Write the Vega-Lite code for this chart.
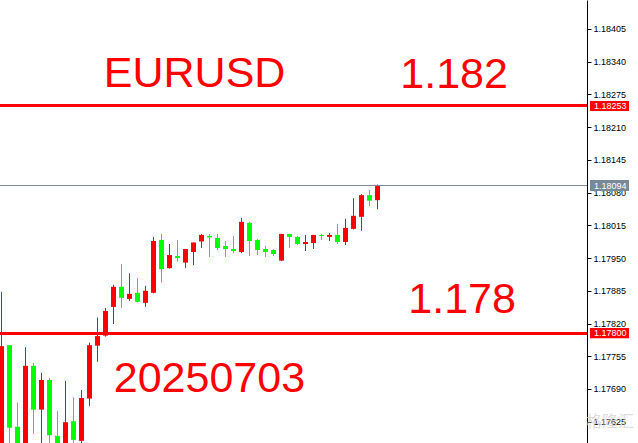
{
  "$schema": "https://vega.github.io/schema/vega-lite/v6.json",
  "width": 587,
  "height": 443,
  "autosize": {"type": "none"},
  "padding": {"left": 0, "top": 0, "right": 51, "bottom": 0},
  "background": "#ffffff",
  "config": {
    "view": {"stroke": null},
    "axisX": {"disable": true},
    "scale": {"continuousPadding": 0},
    "axisY": {"labelFont": "Liberation Sans", "labelFontSize": 9, "labelColor": "#000000", "tickColor": "#000000", "domainColor": "#000000", "tickSize": 4, "labelPadding": 2, "grid": false, "labelOverlap": false, "labelFlush": false, "title": null}
  },
  "datasets": {
    "candles": [
      {"i": 0, "open": 1.17559, "high": 1.17883, "low": 1.17549, "close": 1.17775},
      {"i": 1, "open": 1.17777, "high": 1.17777, "low": 1.17569, "close": 1.17613},
      {"i": 2, "open": 1.17615, "high": 1.17663, "low": 1.17565, "close": 1.17573},
      {"i": 3, "open": 1.17575, "high": 1.17773, "low": 1.17565, "close": 1.17736},
      {"i": 4, "open": 1.17736, "high": 1.17742, "low": 1.17601, "close": 1.17649},
      {"i": 5, "open": 1.17649, "high": 1.17722, "low": 1.17573, "close": 1.17708},
      {"i": 6, "open": 1.17708, "high": 1.17712, "low": 1.17575, "close": 1.17598},
      {"i": 7, "open": 1.17597, "high": 1.17646, "low": 1.17569, "close": 1.17575},
      {"i": 8, "open": 1.17577, "high": 1.17706, "low": 1.17573, "close": 1.17624},
      {"i": 9, "open": 1.17626, "high": 1.17673, "low": 1.17579, "close": 1.17589},
      {"i": 10, "open": 1.17587, "high": 1.17688, "low": 1.17577, "close": 1.17672},
      {"i": 11, "open": 1.17671, "high": 1.17782, "low": 1.17656, "close": 1.17777},
      {"i": 12, "open": 1.17776, "high": 1.17832, "low": 1.17744, "close": 1.17795},
      {"i": 13, "open": 1.17796, "high": 1.17851, "low": 1.17794, "close": 1.17845},
      {"i": 14, "open": 1.17853, "high": 1.17897, "low": 1.17819, "close": 1.17893},
      {"i": 15, "open": 1.17893, "high": 1.17938, "low": 1.17851, "close": 1.17871},
      {"i": 16, "open": 1.17869, "high": 1.1792, "low": 1.17865, "close": 1.17879},
      {"i": 17, "open": 1.17881, "high": 1.1791, "low": 1.17862, "close": 1.17863},
      {"i": 18, "open": 1.17861, "high": 1.17895, "low": 1.17853, "close": 1.17885},
      {"i": 19, "open": 1.17881, "high": 1.17992, "low": 1.1788, "close": 1.17984},
      {"i": 20, "open": 1.17986, "high": 1.17998, "low": 1.17901, "close": 1.17928},
      {"i": 21, "open": 1.1793, "high": 1.17978, "low": 1.17929, "close": 1.17956},
      {"i": 22, "open": 1.17954, "high": 1.17986, "low": 1.17943, "close": 1.1795},
      {"i": 23, "open": 1.17941, "high": 1.17968, "low": 1.1793, "close": 1.17968},
      {"i": 24, "open": 1.17962, "high": 1.17981, "low": 1.17936, "close": 1.17981},
      {"i": 25, "open": 1.17983, "high": 1.17998, "low": 1.1797, "close": 1.17996},
      {"i": 26, "open": 1.17994, "high": 1.17998, "low": 1.17952, "close": 1.17991},
      {"i": 27, "open": 1.1799, "high": 1.17998, "low": 1.17966, "close": 1.1797},
      {"i": 28, "open": 1.17974, "high": 1.17984, "low": 1.17952, "close": 1.17968},
      {"i": 29, "open": 1.17968, "high": 1.17994, "low": 1.1796, "close": 1.17964},
      {"i": 30, "open": 1.17962, "high": 1.1803, "low": 1.1796, "close": 1.18022},
      {"i": 31, "open": 1.1802, "high": 1.18022, "low": 1.17954, "close": 1.17984},
      {"i": 32, "open": 1.17986, "high": 1.17988, "low": 1.17956, "close": 1.17966},
      {"i": 33, "open": 1.17968, "high": 1.17974, "low": 1.17952, "close": 1.17962},
      {"i": 34, "open": 1.17966, "high": 1.17968, "low": 1.17954, "close": 1.17958},
      {"i": 35, "open": 1.17945, "high": 1.17998, "low": 1.17944, "close": 1.17998},
      {"i": 36, "open": 1.17998, "high": 1.17998, "low": 1.1797, "close": 1.17992},
      {"i": 37, "open": 1.17992, "high": 1.17994, "low": 1.17976, "close": 1.17978},
      {"i": 38, "open": 1.17978, "high": 1.17996, "low": 1.17964, "close": 1.17982},
      {"i": 39, "open": 1.1798, "high": 1.17996, "low": 1.17968, "close": 1.17996},
      {"i": 40, "open": 1.17996, "high": 1.17998, "low": 1.17986, "close": 1.17994},
      {"i": 41, "open": 1.17992, "high": 1.18, "low": 1.17984, "close": 1.17996},
      {"i": 42, "open": 1.17996, "high": 1.18018, "low": 1.17978, "close": 1.17982},
      {"i": 43, "open": 1.17982, "high": 1.18028, "low": 1.17976, "close": 1.1801},
      {"i": 44, "open": 1.18008, "high": 1.18069, "low": 1.18007, "close": 1.18034},
      {"i": 45, "open": 1.18032, "high": 1.18077, "low": 1.18004, "close": 1.18075},
      {"i": 46, "open": 1.18075, "high": 1.18085, "low": 1.18053, "close": 1.18064},
      {"i": 47, "open": 1.18065, "high": 1.18096, "low": 1.18047, "close": 1.18094}
    ]
  },
  "layer": [
    {
      "data": {"name": "candles"},
      "mark": {"type": "rule", "strokeWidth": 1},
      "encoding": {
        "x": {"field": "i", "type": "quantitative", "scale": {"domain": [-0.1875, 73.1875], "nice": false, "zero": false, "padding": 0}},
        "y": {"field": "low", "type": "quantitative", "title": null, "scale": {"domain": [1.175827, 1.184626], "nice": false, "zero": false, "padding": 0},
              "axis": {"orient": "right", "format": ".5f", "title": null, "labelOverlap": false, "tickCount": 30, "values": [1.17625, 1.1769, 1.17755, 1.1782, 1.17885, 1.1795, 1.18015, 1.1808, 1.18145, 1.1821, 1.18275, 1.1834, 1.18405]}},
        "y2": {"field": "high"},
        "color": {"condition": {"test": "datum.close > datum.open", "value": "#ff0000"}, "value": "#00ff00"}
      }
    },
    {
      "data": {"name": "candles"},
      "mark": {"type": "bar", "width": 5},
      "encoding": {
        "x": {"field": "i", "type": "quantitative"},
        "y": {"field": "open", "type": "quantitative", "title": null},
        "y2": {"field": "close"},
        "color": {"condition": {"test": "datum.close > datum.open", "value": "#ff0000"}, "value": "#00ff00"}
      }
    },
    {
      "data": {"values": [{}]},
      "mark": {"type": "rule", "color": "#ff0000", "strokeWidth": 3},
      "encoding": {"y": {"datum": 1.18253}}
    },
    {
      "data": {"values": [{}]},
      "mark": {"type": "rule", "color": "#ff0000", "strokeWidth": 3},
      "encoding": {"y": {"datum": 1.178}}
    },
    {
      "data": {"values": [{}]},
      "mark": {"type": "rule", "color": "#778899", "strokeWidth": 1},
      "encoding": {"y": {"datum": 1.18094}}
    },
    {
      "data": {"values": [{}]},
      "mark": {"type": "rect", "color": "#ff0000"},
      "encoding": {"x": {"datum": 73.5625}, "x2": {"datum": 78.4375}, "y": {"datum": 1.18262}, "y2": {"datum": 1.18242}}
    },
    {
      "data": {"values": [{}]},
      "mark": {"type": "rect", "color": "#ff0000"},
      "encoding": {"x": {"datum": 73.5625}, "x2": {"datum": 78.4375}, "y": {"datum": 1.17811}, "y2": {"datum": 1.17791}}
    },
    {
      "data": {"values": [{}]},
      "mark": {"type": "rect", "color": "#778899"},
      "encoding": {"x": {"datum": 73.5625}, "x2": {"datum": 78.4375}, "y": {"datum": 1.18105}, "y2": {"datum": 1.18083}}
    },
    {
      "data": {"values": [{}]},
      "mark": {"type": "text", "text": "1.18253", "color": "#ffffff", "font": "Liberation Sans", "fontSize": 9, "align": "left", "baseline": "middle"},
      "encoding": {"x": {"datum": 74.06}, "y": {"datum": 1.18252}}
    },
    {
      "data": {"values": [{}]},
      "mark": {"type": "text", "text": "1.17800", "color": "#ffffff", "font": "Liberation Sans", "fontSize": 9, "align": "left", "baseline": "middle"},
      "encoding": {"x": {"datum": 74.06}, "y": {"datum": 1.17801}}
    },
    {
      "data": {"values": [{}]},
      "mark": {"type": "text", "text": "1.18094", "color": "#ffffff", "font": "Liberation Sans", "fontSize": 9, "align": "left", "baseline": "middle"},
      "encoding": {"x": {"datum": 74.06}, "y": {"datum": 1.18094}}
    },
    {
      "data": {"values": [{}]},
      "mark": {"type": "text", "text": "EURUSD", "color": "#ff0000", "font": "Liberation Sans", "fontSize": 43, "align": "left", "baseline": "alphabetic"},
      "encoding": {"x": {"datum": 12.79}, "y": {"datum": 1.182892}}
    },
    {
      "data": {"values": [{}]},
      "mark": {"type": "text", "text": "1.182", "color": "#ff0000", "font": "Liberation Sans", "fontSize": 43, "align": "left", "baseline": "alphabetic"},
      "encoding": {"x": {"datum": 49.85}, "y": {"datum": 1.182884}}
    },
    {
      "data": {"values": [{}]},
      "mark": {"type": "text", "text": "1.178", "color": "#ff0000", "font": "Liberation Sans", "fontSize": 43, "align": "left", "baseline": "alphabetic"},
      "encoding": {"x": {"datum": 50.85}, "y": {"datum": 1.178415}}
    },
    {
      "data": {"values": [{}]},
      "mark": {"type": "text", "text": "20250703", "color": "#ff0000", "font": "Liberation Sans", "fontSize": 43, "align": "left", "baseline": "alphabetic"},
      "encoding": {"x": {"datum": 14.03}, "y": {"datum": 1.176846}}
    },
    {
      "data": {"values": [{}]},
      "mark": {"type": "text", "text": "格隆汇", "color": "#cfcfcf", "opacity": 0.7, "font": "Noto Sans CJK SC", "fontSize": 16, "align": "center", "baseline": "middle"},
      "encoding": {"x": {"datum": 76.06}, "y": {"datum": 1.176254}}
    }
  ]
}
